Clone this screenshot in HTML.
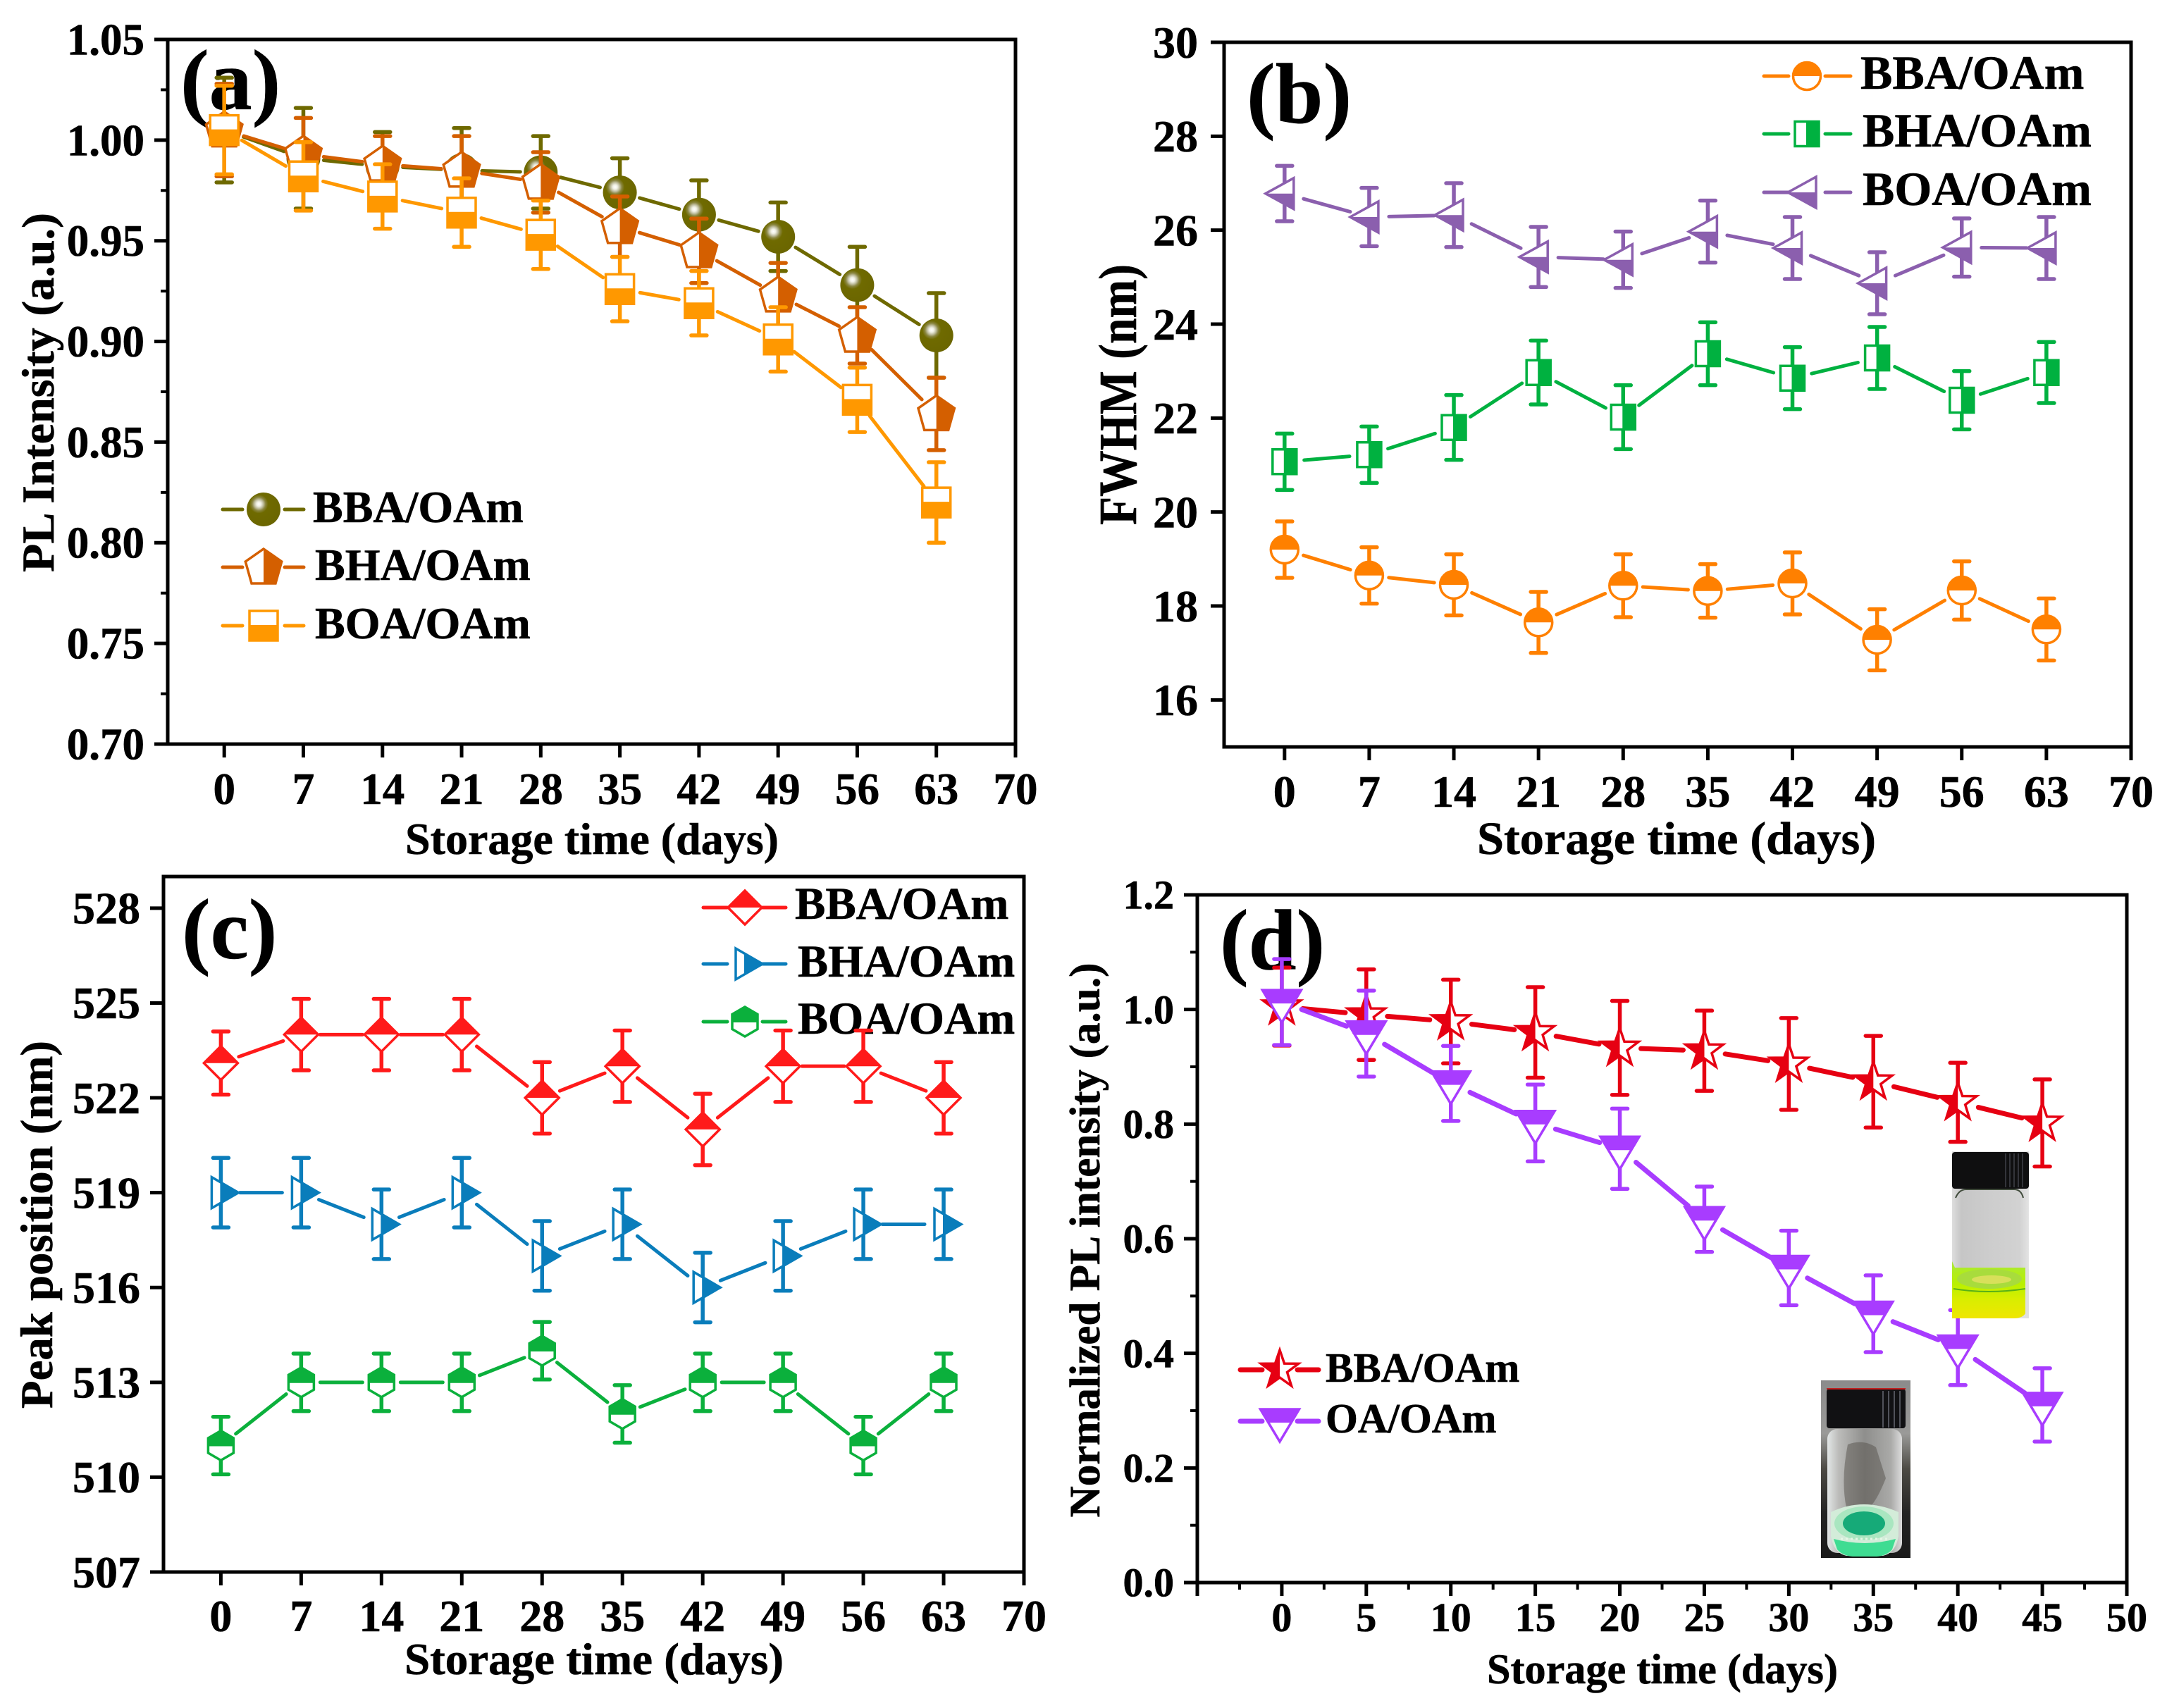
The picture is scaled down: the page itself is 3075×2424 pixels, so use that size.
<!DOCTYPE html>
<html lang="en">
<head>
<meta charset="utf-8">
<title>PL stability charts</title>
<style>
html,body{margin:0;padding:0;background:#fff;}
svg{display:block;}
text{font-family:"Liberation Serif",serif;font-weight:bold;fill:#000;stroke:#000;stroke-width:0.6px;}
</style>
</head>
<body>
<svg id="figure" xmlns="http://www.w3.org/2000/svg" width="3075" height="2424" viewBox="0 0 3075 2424">
<defs>
<radialGradient id="sphere" cx="0.36" cy="0.34" r="0.66">
<stop offset="0" stop-color="#ffffff"/>
<stop offset="0.1" stop-color="#f0f0e4"/>
<stop offset="0.2" stop-color="#c0bea0"/>
<stop offset="0.3" stop-color="#8a8640"/>
<stop offset="0.42" stop-color="#6f6a00"/>
<stop offset="1" stop-color="#6b6600"/>
</radialGradient>
<linearGradient id="glass-yellow" x1="0" y1="0" x2="1" y2="0">
<stop offset="0" stop-color="#dedede"/><stop offset="0.12" stop-color="#c6c6c6"/><stop offset="0.5" stop-color="#cdcdcd"/><stop offset="0.88" stop-color="#d2d2d2"/><stop offset="1" stop-color="#e4e4e4"/>
</linearGradient>
<linearGradient id="liquid-yellow" x1="0" y1="0" x2="0" y2="1">
<stop offset="0" stop-color="#a9e83a"/><stop offset="0.4" stop-color="#b8f000"/><stop offset="0.65" stop-color="#d8ee00"/><stop offset="1" stop-color="#efe600"/>
</linearGradient>
<linearGradient id="bg-dark" x1="0" y1="0" x2="0" y2="1">
<stop offset="0" stop-color="#8b8b8b"/><stop offset="0.3" stop-color="#9a9a98"/><stop offset="0.5" stop-color="#4c4a44"/><stop offset="0.75" stop-color="#232323"/><stop offset="1" stop-color="#1a1a1a"/>
</linearGradient>
<linearGradient id="glass-clear" x1="0" y1="0" x2="1" y2="0">
<stop offset="0" stop-color="#e2e6e6"/><stop offset="0.15" stop-color="#bcbcba"/><stop offset="0.5" stop-color="#8e8e8c"/><stop offset="0.85" stop-color="#aaaaa8"/><stop offset="1" stop-color="#dcdcdc"/>
</linearGradient>
</defs>
<rect x="0" y="0" width="3075" height="2424" fill="#ffffff"/>
<g id="chart-root"></g>

<g>
<rect x="2770" y="1634" width="109" height="237" fill="#e0e0e0"/>
<rect x="2770" y="1686" width="109" height="115" fill="url(#glass-yellow)"/>
<rect x="2770" y="1635" width="109" height="52" rx="4" fill="#0f0f10"/>
<path d="M2846 1637v48M2852 1637v48M2858 1637v48M2864 1637v48M2870 1637v48" stroke="#33343a" stroke-width="2"/>
<path d="M2775 1700q5-12 15-12h68q10 0 13 12" fill="none" stroke="#3f4a3a" stroke-width="2"/>
<path d="M2770 1790l4 9h100v65q-4 7-18 7h-86z" fill="url(#liquid-yellow)"/>
<ellipse cx="2823" cy="1815" rx="46" ry="14" fill="#a8dc3c"/>
<ellipse cx="2826" cy="1816" rx="28" ry="6" fill="#d8e05a"/>
<path d="M2772 1829q50 8 102 0" fill="none" stroke="#58b018" stroke-width="2"/>
</g>

<g>
<rect x="2584" y="1959" width="127" height="252" fill="url(#bg-dark)"/>
<rect x="2593" y="2028" width="106" height="176" rx="14" fill="url(#glass-clear)"/>
<path d="M2622 2050q22-8 40 4l14 44q-12 30-22 40l-34 2q-8-40 2-90z" fill="#55524c" opacity="0.5"/>
<path d="M2598 2180v-34q46-22 96 0v34q-4 24-22 28h-52q-18-4-22-28z" fill="#d3ecd9"/>
<ellipse cx="2645" cy="2162" rx="42" ry="24" fill="#a9e6c0"/>
<ellipse cx="2645" cy="2162" rx="30" ry="17" fill="#16aa78"/>
<path d="M2602 2184q44 12 88 0l-5 15q-8 9-22 10h-34q-14-1-22-10z" fill="#3fdc92"/>
<path d="M2612 2184h66" stroke="#e6f6e6" stroke-width="3" stroke-dasharray="3 4"/>
<rect x="2592" y="1971" width="112" height="56" rx="4" fill="#111113"/>
<path d="M2592 1971h112" stroke="#c02020" stroke-width="2"/>
<path d="M2672 1974v52M2680 1974v52M2688 1974v52M2696 1974v52" stroke="#50525a" stroke-width="2"/>
</g>
</svg>

<script>
// ---------- panel (a) data ----------
const aDays = [0, 7, 14, 21, 28, 35, 42, 49, 56, 63];
const aXTicks = [0, 7, 14, 21, 28, 35, 42, 49, 56, 63, 70];
const aXLabels = ["0", "7", "14", "21", "28", "35", "42", "49", "56", "63", "70"];
const aYTicks = [0.70, 0.75, 0.80, 0.85, 0.90, 0.95, 1.00, 1.05];
const aYLabels = ["0.70", "0.75", "0.80", "0.85", "0.90", "0.95", "1.00", "1.05"];
const aYMinor = [0.725, 0.775, 0.825, 0.875, 0.925, 0.975, 1.025];
const aBba = [1.005, 0.991, 0.987, 0.985, 0.984, 0.974, 0.963, 0.952, 0.928, 0.903];
const aBbaErr = [0.026, 0.025, 0.017, 0.021, 0.018, 0.017, 0.017, 0.017, 0.019, 0.021];
const aBha = [1.005, 0.993, 0.988, 0.985, 0.979, 0.957, 0.945, 0.923, 0.903, 0.864];
const aBhaErr = [0.023, 0.018, 0.014, 0.017, 0.015, 0.015, 0.016, 0.016, 0.014, 0.018];
const aBoa = [1.005, 0.982, 0.972, 0.964, 0.953, 0.926, 0.919, 0.901, 0.871, 0.820];
const aBoaErr = [0.022, 0.017, 0.016, 0.017, 0.017, 0.016, 0.016, 0.016, 0.016, 0.020];

// ---------- panel (b) data ----------
const bDays = [0, 7, 14, 21, 28, 35, 42, 49, 56, 63];
const bXTicks = [0, 7, 14, 21, 28, 35, 42, 49, 56, 63, 70];
const bXLabels = ["0", "7", "14", "21", "28", "35", "42", "49", "56", "63", "70"];
const bYTicks = [16, 18, 20, 22, 24, 26, 28, 30];
const bYLabels = ["16", "18", "20", "22", "24", "26", "28", "30"];
const bYMinor = [];
const bBba = [19.2, 18.65, 18.45, 17.65, 18.43, 18.32, 18.48, 17.28, 18.33, 17.5];
const bBbaErr = [0.6, 0.6, 0.65, 0.65, 0.67, 0.57, 0.66, 0.65, 0.62, 0.66];
const bBha = [21.07, 21.22, 21.8, 22.97, 22.02, 23.37, 22.85, 23.28, 22.38, 22.97];
const bBhaErr = [0.6, 0.6, 0.69, 0.68, 0.68, 0.67, 0.66, 0.66, 0.62, 0.65];
const bBoa = [26.78, 26.28, 26.32, 25.43, 25.37, 25.97, 25.62, 24.87, 25.63, 25.62];
const bBoaErr = [0.59, 0.62, 0.68, 0.64, 0.6, 0.66, 0.66, 0.66, 0.62, 0.66];

// ---------- panel (c) data ----------
const cDays = [0, 7, 14, 21, 28, 35, 42, 49, 56, 63];
const cXTicks = [0, 7, 14, 21, 28, 35, 42, 49, 56, 63, 70];
const cXLabels = ["0", "7", "14", "21", "28", "35", "42", "49", "56", "63", "70"];
const cYTicks = [507, 510, 513, 516, 519, 522, 525, 528];
const cYLabels = ["507", "510", "513", "516", "519", "522", "525", "528"];
const cYMinor = [];
const cBba = [523.1, 524, 524, 524, 522, 523, 521, 523, 523, 522];
const cBbaErr = [1.0, 1.13, 1.13, 1.13, 1.13, 1.13, 1.13, 1.13, 1.13, 1.13];
const cBha = [519, 519, 518, 519, 517, 518, 516, 517, 518, 518];
const cBhaErr = [1.1, 1.1, 1.1, 1.1, 1.1, 1.1, 1.1, 1.1, 1.1, 1.1];
const cBoa = [511, 513, 513, 513, 514, 512, 513, 513, 511, 513];
const cBoaErr = [0.91, 0.91, 0.91, 0.91, 0.91, 0.91, 0.91, 0.91, 0.91, 0.91];

// ---------- panel (d) data ----------
const dDays = [0, 5, 10, 15, 20, 25, 30, 35, 40, 45];
const dXTicks = [-5, 0, 5, 10, 15, 20, 25, 30, 35, 40, 45, 50];
const dXLabels = ["", "0", "5", "10", "15", "20", "25", "30", "35", "40", "45", "50"];
const dXMinor = [-2.5, 2.5, 7.5, 12.5, 17.5, 22.5, 27.5, 32.5, 37.5, 42.5, 47.5];
const dYTicks = [0, 0.2, 0.4, 0.6, 0.8, 1.0, 1.2];
const dYLabels = ["0.0", "0.2", "0.4", "0.6", "0.8", "1.0", "1.2"];
const dYMinor = [0.1, 0.3, 0.5, 0.7, 0.9, 1.1];
const dBba = [1.005, 0.991, 0.979, 0.960, 0.933, 0.928, 0.905, 0.874, 0.838, 0.802];
const dBbaErr = [0.068, 0.079, 0.073, 0.079, 0.082, 0.07, 0.08, 0.08, 0.069, 0.076];
const dOa = [1.013, 0.958, 0.871, 0.802, 0.757, 0.634, 0.549, 0.469, 0.41, 0.31];
const dOaErr = [0.075, 0.075, 0.0655, 0.067, 0.07, 0.057, 0.065, 0.067, 0.0655, 0.064];

const NS = "http://www.w3.org/2000/svg";
const root = document.getElementById("chart-root");

function make(tag, attrs, parent) {
  const el = document.createElementNS(NS, tag);
  for (const k in attrs) el.setAttribute(k, attrs[k]);
  parent.appendChild(el);
  return el;
}

function xScale(p, v) { return p.left + (v - p.xMin) / (p.xMax - p.xMin) * (p.right - p.left); }
function yScale(p, v) { return p.bottom - (v - p.yMin) / (p.yMax - p.yMin) * (p.bottom - p.top); }

function circleOutline(r) { return `M${-r},0A${r},${r} 0 1 1 ${r},0A${r},${r} 0 1 1 ${-r},0Z`; }

function starShape(R, r) {
  const pts = [];
  for (let i = 0; i < 10; i++) {
    const rad = i % 2 === 0 ? R : r;
    const ang = -Math.PI / 2 - i * Math.PI / 5;
    pts.push([rad * Math.cos(ang), rad * Math.sin(ang)]);
  }
  const str = a => "M" + a.map(q => q[0].toFixed(1) + "," + q[1].toFixed(1)).join("L") + "Z";
  return { outline: str(pts), half: str(pts.slice(0, 6)) };
}
const star = starShape(28, 11);

const SHAPES = {
  sphere: { outline: circleOutline(24), half: "" },
  pentagon: { outline: "M0,-26L25.7,-8L17,23L-17,23L-25.7,-8Z", half: "M0,-26L25.7,-8L17,23L0,23Z" },
  squareLow: { outline: "M-20,-21H20V21H-20Z", half: "M-20,-1H20V21H-20Z" },
  circleTop: { outline: circleOutline(19.5), half: "M-19.5,0A19.5,19.5 0 0 1 19.5,0Z" },
  squareRight: { outline: "M-17,-17.5H17V17.5H-17Z", half: "M-1,-17.5H17V17.5H-1Z" },
  triLeft: { outline: "M-27,0L13,-22V22Z", half: "M-27,0H13V22Z" },
  diamond: { outline: "M0,-24L24,0L0,24L-24,0Z", half: "M0,-24L24,0H-24Z" },
  triRight: { outline: "M-13,-22L25,0L-13,22Z", half: "M-1,-15L25,0L-1,15Z" },
  hexagon: { outline: "M0,-21L18,-10.5V10.5L0,21L-18,10.5V-10.5Z", half: "M0,-21L18,-10.5V1H-18V-10.5Z" },
  triDown: { outline: "M-27.5,-17H27.5L0,29Z", half: "M-27.5,-17H27.5L16,2H-16Z" },
  star: { outline: star.outline, half: star.half }
};

function drawMarker(parent, shape, color, cx, cy, name) {
  const g = make("g", { transform: `translate(${cx.toFixed(1)},${cy.toFixed(1)})` }, parent);
  
  
  const s = SHAPES[shape];
  if (shape === "sphere") {
    make("path", { d: s.outline, fill: "url(#sphere)" }, g);
    return g;
  }
  make("path", { d: s.outline, fill: "#ffffff", stroke: color, "stroke-width": 3.5, "stroke-linejoin": "miter" }, g);
  make("path", { d: s.half, fill: color }, g);
  return g;
}

function drawLabel(parent, str, x, y, size, anchor, name, rotate, length) {
  const attrs = { x: x, y: y, "font-size": size, "text-anchor": anchor };
  if (rotate) attrs.transform = `rotate(-90 ${x} ${y})`;
  if (length) { attrs.textLength = length; attrs.lengthAdjust = "spacingAndGlyphs"; }
  const t = make("text", attrs, parent);
  t.textContent = str;
  
  
  return t;
}

function drawAxes(p, g) {
  const frame = make("rect", { x: p.left, y: p.top, width: p.right - p.left, height: p.bottom - p.top, fill: "none", stroke: "#000", "stroke-width": 5 }, g);
  
  

  p.xTicks.forEach((v, i) => {
    const x = xScale(p, v);
    const tick = make("line", { x1: x, x2: x, y1: p.bottom, y2: p.bottom + 19, stroke: "#000", "stroke-width": 5 }, g);
    
    
    if (p.xLabels[i]) drawLabel(g, p.xLabels[i], x, p.xLabelY, p.tickFont, "middle", p.id + "-x-tick-label");
  });
  p.xMinor.forEach(v => {
    const x = xScale(p, v);
    const tick = make("line", { x1: x, x2: x, y1: p.bottom, y2: p.bottom + 10, stroke: "#000", "stroke-width": 4 }, g);
    
    
  });
  p.yTicks.forEach((v, i) => {
    const y = yScale(p, v);
    const tick = make("line", { x1: p.left - 19, x2: p.left, y1: y, y2: y, stroke: "#000", "stroke-width": 5 }, g);
    
    
    drawLabel(g, p.yLabels[i], p.yLabelX, y + p.tickFont * 0.34, p.tickFont, "end", p.id + "-y-tick-label");
  });
  p.yMinor.forEach(v => {
    const y = yScale(p, v);
    const tick = make("line", { x1: p.left - 10, x2: p.left, y1: y, y2: y, stroke: "#000", "stroke-width": 4 }, g);
    
    
  });
  drawLabel(g, "Storage time (days)", p.xTitle[0], p.xTitle[1], p.xTitle[2], "middle", p.id + "-x-axis-title", false, p.xTitle[3]);
  drawLabel(g, p.yTitle[0], p.yTitle[1], p.yTitle[2], p.yTitle[3], "middle", p.id + "-y-axis-title", true, p.yTitle[4]);
  drawLabel(g, p.mark[0], p.mark[1], p.mark[2], 122, "start", p.id + "-panel-letter");
}

function drawSeries(p, g, s) {
  const sg = make("g", {}, g);
  
  
  const days = p.days;
  const xs = days.map(d => xScale(p, d));
  const ys = s.values.map(v => yScale(p, v));
  for (let i = 0; i + 1 < xs.length; i++) {
    const dx = xs[i + 1] - xs[i], dy = ys[i + 1] - ys[i], len = Math.hypot(dx, dy);
    if (len <= 2 * p.gap) continue;
    const ux = dx / len, uy = dy / len;
    const seg = make("line", { x1: xs[i] + ux * p.gap, y1: ys[i] + uy * p.gap, x2: xs[i + 1] - ux * p.gap, y2: ys[i + 1] - uy * p.gap, stroke: s.color, "stroke-width": p.lineW, "stroke-linecap": "round" }, sg);
    
    
  }
  s.values.forEach((v, i) => {
    const x = xs[i];
    const hi = yScale(p, v + s.errs[i]);
    const lo = yScale(p, v - s.errs[i]);
    const d = `M${x},${hi}V${lo}M${x - 11},${hi}H${x + 11}M${x - 11},${lo}H${x + 11}`;
    const bar = make("path", { d: d, fill: "none", stroke: s.color, "stroke-width": 5.5, "stroke-linecap": "round" }, sg);
    
    
  });
  s.values.forEach((v, i) => {
    drawMarker(sg, s.shape, s.color, xs[i], ys[i], s.name + "-point");
  });
}

function drawLegend(p, g) {
  p.legend.forEach(e => {
    const lg = make("g", {}, g);
    
    
    const d = `M${e.x1},${e.y}H${e.cx - e.gap}M${e.cx + e.gap},${e.y}H${e.x2}`;
    make("path", { d: d, stroke: e.color, "stroke-width": p.lineW, "stroke-linecap": "round", fill: "none" }, lg);
    drawMarker(lg, e.shape, e.color, e.cx, e.y, p.id + "-legend-marker");
    drawLabel(lg, e.label, e.tx, e.ty, e.font, "start", p.id + "-legend-label");
  });
}

const OLIVE = "#6e6900", BROWN = "#d45f00", AMBER = "#ff9800";
const ORANGE = "#ff8000", EMERALD = "#00b140", VIOLET = "#8b5fae";
const RED = "#ff1a1a", BLUE = "#0a7dbb", GREEN = "#0bb03c";
const DRED = "#e60012", PURPLE = "#a83cff";

const panels = [
  {
    id: "panel-a", left: 238, right: 1441, top: 56, bottom: 1056,
    xMin: -5, xMax: 70, yMin: 0.70, yMax: 1.05,
    days: aDays, xTicks: aXTicks, xLabels: aXLabels, xMinor: [], yTicks: aYTicks, yLabels: aYLabels, yMinor: aYMinor,
    tickFont: 63, yLabelX: 205, xLabelY: 1141, gap: 29, lineW: 5,
    xTitle: [840, 1212, 64, 530], yTitle: ["PL Intensity (a.u.)", 76, 557, 65, 510], mark: ["(a)", 256, 155],
    series: [
      { name: "bba", values: aBba, errs: aBbaErr, color: OLIVE, shape: "sphere" },
      { name: "bha", values: aBha, errs: aBhaErr, color: BROWN, shape: "pentagon" },
      { name: "boa", values: aBoa, errs: aBoaErr, color: AMBER, shape: "squareLow" }
    ],
    legend: [
      { label: "BBA/OAm", color: OLIVE, shape: "sphere", x1: 316, x2: 431, cx: 374, y: 723, gap: 30, tx: 444, ty: 741, font: 64 },
      { label: "BHA/OAm", color: BROWN, shape: "pentagon", x1: 316, x2: 431, cx: 374, y: 805, gap: 30, tx: 447, ty: 823, font: 64 },
      { label: "BOA/OAm", color: AMBER, shape: "squareLow", x1: 316, x2: 431, cx: 374, y: 888, gap: 30, tx: 447, ty: 906, font: 64 }
    ]
  },
  {
    id: "panel-b", left: 1737, right: 3024, top: 60, bottom: 1060,
    xMin: -5, xMax: 70, yMin: 15, yMax: 30,
    days: bDays, xTicks: bXTicks, xLabels: bXLabels, xMinor: [], yTicks: bYTicks, yLabels: bYLabels, yMinor: bYMinor,
    tickFont: 64, yLabelX: 1700, xLabelY: 1145, gap: 28, lineW: 5,
    xTitle: [2379, 1212, 66, 566], yTitle: ["FWHM (nm)", 1612, 560, 76, 370], mark: ["(b)", 1769, 174],
    series: [
      { name: "bba", values: bBba, errs: bBbaErr, color: ORANGE, shape: "circleTop" },
      { name: "bha", values: bBha, errs: bBhaErr, color: EMERALD, shape: "squareRight" },
      { name: "boa", values: bBoa, errs: bBoaErr, color: VIOLET, shape: "triLeft" }
    ],
    legend: [
      { label: "BBA/OAm", color: ORANGE, shape: "circleTop", x1: 2503, x2: 2626, cx: 2564, y: 108, gap: 26, tx: 2640, ty: 126, font: 68 },
      { label: "BHA/OAm", color: EMERALD, shape: "squareRight", x1: 2503, x2: 2626, cx: 2564, y: 190, gap: 26, tx: 2643, ty: 208, font: 68 },
      { label: "BOA/OAm", color: VIOLET, shape: "triLeft", x1: 2503, x2: 2626, cx: 2564, y: 273, gap: 26, tx: 2643, ty: 291, font: 68 }
    ]
  },
  {
    id: "panel-c", left: 232, right: 1453, top: 1244, bottom: 2231,
    xMin: -5, xMax: 70, yMin: 507, yMax: 529,
    days: cDays, xTicks: cXTicks, xLabels: cXLabels, xMinor: [], yTicks: cYTicks, yLabels: cYLabels, yMinor: cYMinor,
    tickFont: 64, yLabelX: 199, xLabelY: 2315, gap: 27, lineW: 5,
    xTitle: [843, 2376, 64, 538], yTitle: ["Peak position (nm)", 74, 1738, 65, 522], mark: ["(c)", 258, 1360],
    series: [
      { name: "bba", values: cBba, errs: cBbaErr, color: RED, shape: "diamond" },
      { name: "bha", values: cBha, errs: cBhaErr, color: BLUE, shape: "triRight" },
      { name: "boa", values: cBoa, errs: cBoaErr, color: GREEN, shape: "hexagon" }
    ],
    legend: [
      { label: "BBA/OAm", color: RED, shape: "diamond", x1: 998, x2: 1115, cx: 1057, y: 1288, gap: 25, tx: 1128, ty: 1304, font: 65 },
      { label: "BHA/OAm", color: BLUE, shape: "triRight", x1: 998, x2: 1115, cx: 1057, y: 1368, gap: 25, tx: 1132, ty: 1386, font: 64.5 },
      { label: "BOA/OAm", color: GREEN, shape: "hexagon", x1: 998, x2: 1115, cx: 1057, y: 1450, gap: 25, tx: 1132, ty: 1467, font: 64.5 }
    ]
  },
  {
    id: "panel-d", left: 1699, right: 3018, top: 1270, bottom: 2246,
    xMin: -5, xMax: 50, yMin: 0, yMax: 1.2,
    days: dDays, xTicks: dXTicks, xLabels: dXLabels, xMinor: dXMinor, yTicks: dYTicks, yLabels: dYLabels, yMinor: dYMinor,
    tickFont: 58, yLabelX: 1666, xLabelY: 2315, gap: 30, lineW: 7,
    xTitle: [2359, 2389, 60, 498], yTitle: ["Normalized PL intensity (a.u.)", 1560, 1760, 61, 787], mark: ["(d)", 1731, 1375],
    series: [
      { name: "bba", values: dBba, errs: dBbaErr, color: DRED, shape: "star" },
      { name: "oa", values: dOa, errs: dOaErr, color: PURPLE, shape: "triDown" }
    ],
    legend: [
      { label: "BBA/OAm", color: DRED, shape: "star", x1: 1760, x2: 1871, cx: 1816, y: 1944, gap: 25, tx: 1881, ty: 1961, font: 59 },
      { label: "OA/OAm", color: PURPLE, shape: "triDown", x1: 1760, x2: 1871, cx: 1816, y: 2017, gap: 25, tx: 1881, ty: 2033, font: 59 }
    ]
  }
];

panels.forEach(p => {
  const g = make("g", {}, root);
  
  
  drawAxes(p, g);
  drawLegend(p, g);
  p.series.forEach(s => drawSeries(p, g, s));
});
</script>
</body>
</html>
